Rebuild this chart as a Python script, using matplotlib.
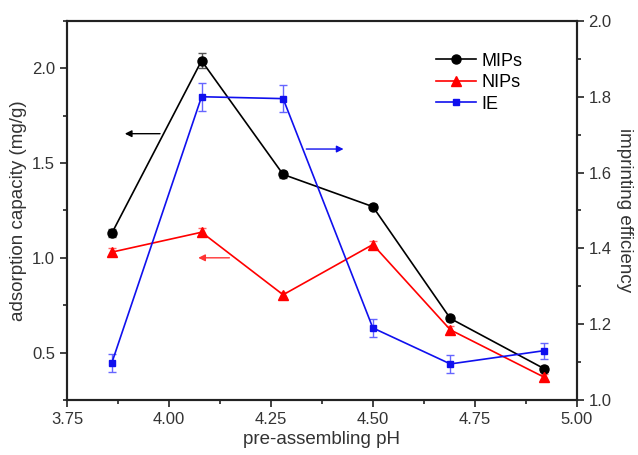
import matplotlib
matplotlib.use("Agg")
import matplotlib.pyplot as plt
from matplotlib.ticker import MultipleLocator, FormatStrFormatter
from matplotlib.lines import Line2D

plt.rcParams['font.family'] = ['Liberation Sans', 'DejaVu Sans']

ph = [3.86, 4.08, 4.28, 4.50, 4.69, 4.92]
mips = [1.13, 2.04, 1.44, 1.27, 0.68, 0.415]
mips_err = [0.02, 0.04, 0.02, 0.015, 0.015, 0.015]
nips = [1.03, 1.135, 0.805, 1.07, 0.62, 0.37]
nips_err = [0.02, 0.02, 0.015, 0.02, 0.02, 0.015]
ie = [1.098, 1.80, 1.795, 1.19, 1.095, 1.13]
ie_err = [0.023, 0.037, 0.036, 0.024, 0.023, 0.021]
labels = ['MIPs', 'NIPs', 'IE']

c_black, c_red, c_blue = 'black', '#ff0000', '#1010ee'

fig = plt.figure(figsize=(6.38, 4.55), dpi=100)
ax = fig.add_axes([0.105, 0.121, 0.799, 0.833])
ax2 = ax.twinx()

ax.errorbar(ph, mips, yerr=mips_err, color=c_black, marker='o', ms=6.5, lw=1.2,
            ecolor='#555555', elinewidth=1, capsize=3)
ax.errorbar(ph, nips, yerr=nips_err, color=c_red, marker='^', ms=7, lw=1.2,
            ecolor='#ff6666', elinewidth=1, capsize=3)
ax2.errorbar(ph, ie, yerr=ie_err, color=c_blue, marker='s', ms=5, lw=1.2,
             ecolor='#6666ff', elinewidth=1, capsize=3)

ax.set_xlim(3.75, 5.0)
ax.set_ylim(0.25, 2.25)
ax2.set_ylim(1.0, 2.0)
ax.xaxis.set_major_locator(MultipleLocator(0.25))
ax.xaxis.set_minor_locator(MultipleLocator(0.125))
ax.yaxis.set_major_locator(MultipleLocator(0.5))
ax.yaxis.set_minor_locator(MultipleLocator(0.25))
ax2.yaxis.set_major_locator(MultipleLocator(0.2))
ax2.yaxis.set_minor_locator(MultipleLocator(0.1))
ax.xaxis.set_major_formatter(FormatStrFormatter('%.2f'))
ax.yaxis.set_major_formatter(FormatStrFormatter('%.1f'))
ax2.yaxis.set_major_formatter(FormatStrFormatter('%.1f'))

for a in (ax, ax2):
    a.tick_params(which='major', length=5, width=1.2, labelsize=12, color='#222222', labelcolor='#333333')
    a.tick_params(which='minor', length=3, width=1.2, color='#222222')
    for s in a.spines.values():
        s.set_linewidth(1.5)
        s.set_color('#222222')

ax.set_xlabel('pre-assembling pH', fontsize=13.5, color='#333333', labelpad=3)
ax.set_ylabel('adsorption capacity (mg/g)', fontsize=13.5, color='#333333', labelpad=4)
ax2.set_ylabel('imprinting efficiency', fontsize=13.5, color='#333333', rotation=270, labelpad=15)

ax.annotate('', xy=(3.885, 1.655), xytext=(3.985, 1.655),
            arrowprops=dict(arrowstyle='-|>', color='black', lw=1, mutation_scale=10))
ax.annotate('', xy=(4.065, 1.0), xytext=(4.155, 1.0),
            arrowprops=dict(arrowstyle='-|>', color='#ff3333', lw=1, mutation_scale=10))
ax2.annotate('', xy=(4.435, 1.662), xytext=(4.33, 1.662),
             arrowprops=dict(arrowstyle='-|>', color=c_blue, lw=1, mutation_scale=10))

handles = [Line2D([], [], color=c_black, marker='o', ms=6.5, lw=1.2),
           Line2D([], [], color=c_red, marker='^', ms=7, lw=1.2),
           Line2D([], [], color=c_blue, marker='s', ms=5, lw=1.2)]
ax.legend(handles=handles, labels=labels, loc='upper left',
          bbox_to_anchor=(0.71, 0.935), frameon=False, fontsize=13,
          handlelength=2.2, handletextpad=0.3, labelspacing=0.25, borderaxespad=0)

fig.savefig('out.png', dpi=100)
